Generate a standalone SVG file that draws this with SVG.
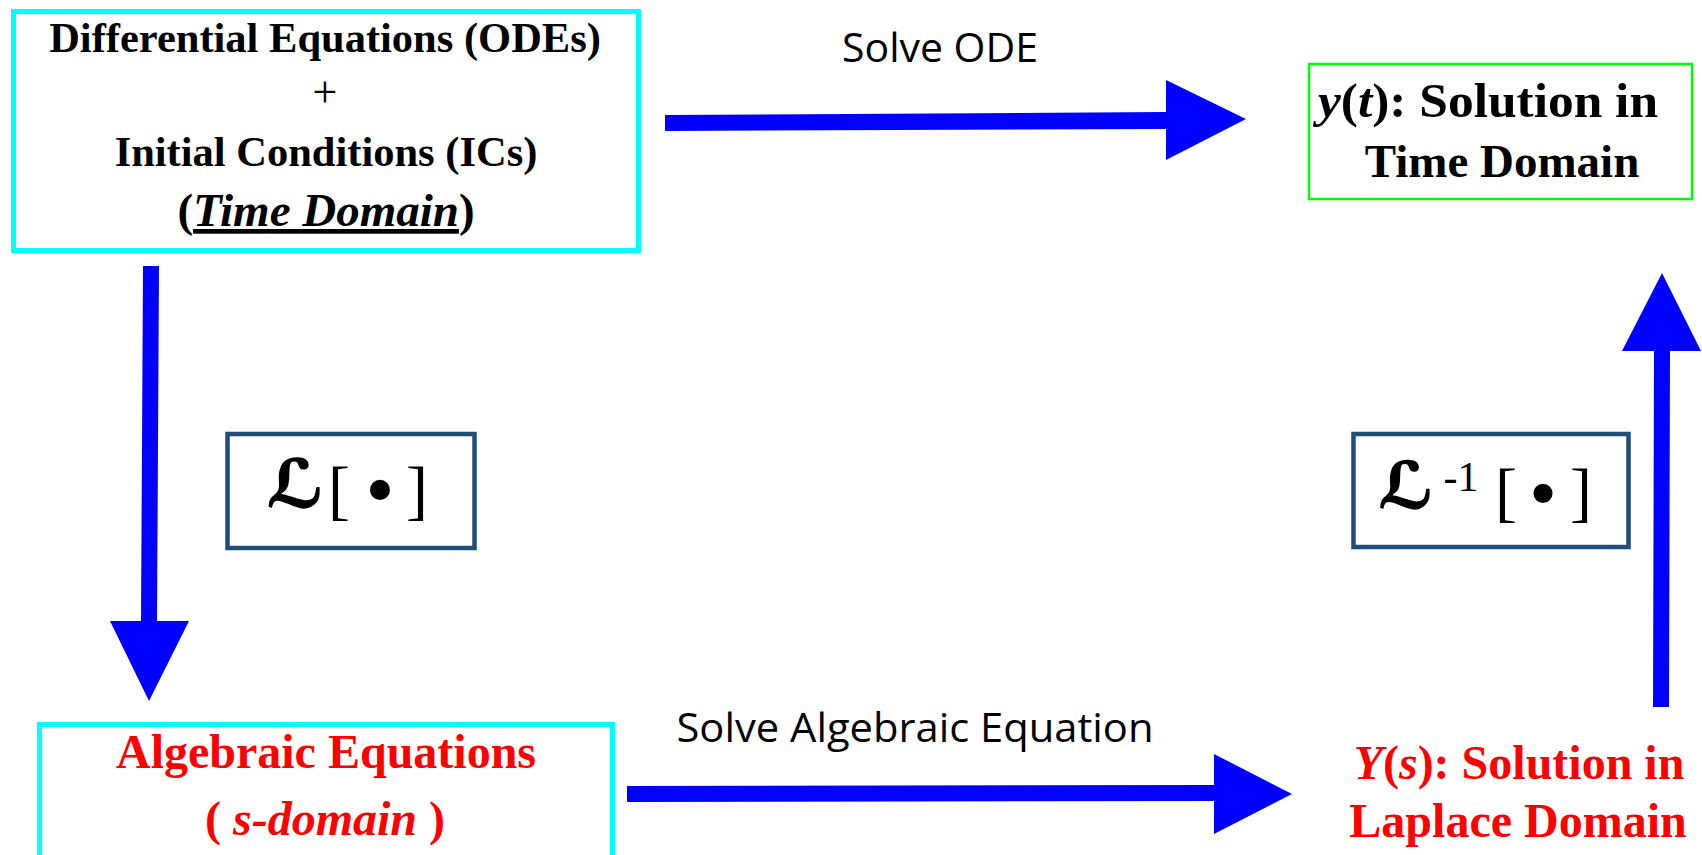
<svg xmlns="http://www.w3.org/2000/svg" width="1702" height="855" viewBox="0 0 1702 855">
  <style>
    .bg { fill: #ffffff; }
    .cyanbox { fill: none; stroke: #00FFFF; stroke-width: 5; }
    .greenbox { fill: none; stroke: #00FF00; stroke-width: 2.5; }
    .opbox { fill: #ffffff; stroke: #1F4E79; stroke-width: 4.5; }
    .serif { font-family: "Liberation Serif", "Times New Roman", serif; }
    .b { font-weight: bold; }
    .i { font-style: italic; }
    .blk { fill: #000000; }
    .red { fill: #FF0000; }
    .sans { font-family: "Open Sans", "Noto Sans", sans-serif; fill: #000000; }
    .script { font-family: "DejaVu Serif", "DejaVu Sans", serif; font-style: italic; font-weight: bold; fill: #000000; stroke: #000000; stroke-width: 1.5; }
    .arrow { fill: #0000FF; stroke: none; }
  </style>
  <rect class="bg" x="0" y="0" width="1702" height="855"/>

  <g id="connectors">
    <polygon id="arrow-solve-ode" class="arrow" points="665,115 1166,112 1166,80 1246,119 1166,160 1166,129 665,131"/>
    <polygon id="arrow-laplace" class="arrow" points="143,266 159,266 157,621 189,621 149,701 110,621 141,621"/>
    <polygon id="arrow-solve-alg" class="arrow" points="627,786 1214,785 1214,754 1292,794 1214,834 1214,801 627,802"/>
    <polygon id="arrow-inverse" class="arrow" points="1653,707 1669,707 1670,351 1701,351 1662,273 1622,351 1654,351"/>
    <text class="sans" x="940" y="62" font-size="40" text-anchor="middle" textLength="196" lengthAdjust="spacingAndGlyphs">Solve ODE</text>
    <text class="sans" x="915" y="742" font-size="40" text-anchor="middle" textLength="477" lengthAdjust="spacingAndGlyphs">Solve Algebraic Equation</text>
  </g>

  <g id="node-ode">
    <rect class="cyanbox" x="13.5" y="11.5" width="625" height="239"/>
    <text class="serif b blk" x="325" y="52" font-size="42.5" text-anchor="middle">Differential Equations (ODEs)</text>
    <text class="serif blk" x="325" y="107" font-size="44" text-anchor="middle">+</text>
    <text class="serif b blk" x="326" y="166" font-size="42.5" text-anchor="middle">Initial Conditions (ICs)</text>
    <text class="serif b blk" x="326" y="226" font-size="47" text-anchor="middle">(<tspan class="i" text-decoration="underline">Time Domain</tspan>)</text>
  </g>

  <g id="node-yt">
    <rect class="greenbox" x="1309" y="64" width="383" height="135"/>
    <text class="serif b blk" x="1488" y="117" font-size="49" text-anchor="middle" textLength="340" lengthAdjust="spacingAndGlyphs"><tspan class="i">y</tspan>(<tspan class="i">t</tspan>): Solution in</text>
    <text class="serif b blk" x="1502" y="177" font-size="47" text-anchor="middle">Time Domain</text>
  </g>

  <g id="node-laplace">
    <rect class="opbox" x="227.5" y="434" width="247" height="114"/>
    <text class="script" x="295" y="507" font-size="66" text-anchor="middle">ℒ</text>
    <text class="serif blk" y="512" font-size="66" text-anchor="middle"><tspan x="339">[</tspan><tspan x="380" font-size="84" dy="6">•</tspan><tspan x="417" dy="-6">]</tspan></text>
  </g>

  <g id="node-inverse">
    <rect class="opbox" x="1353.5" y="434" width="275" height="113"/>
    <text class="script" x="1406" y="508" font-size="64" text-anchor="middle">ℒ</text>
    <text class="serif blk" x="1461" y="491" font-size="42" text-anchor="middle">-1</text>
    <text class="serif blk" y="514" font-size="66" text-anchor="middle"><tspan x="1506">[</tspan><tspan x="1543" font-size="80" dy="6">•</tspan><tspan x="1581" dy="-6">]</tspan></text>
  </g>

  <g id="node-algebraic">
    <rect class="cyanbox" x="39.5" y="724.5" width="573" height="200"/>
    <text class="serif b red" x="326" y="768" font-size="48" text-anchor="middle">Algebraic Equations</text>
    <text class="serif b red" x="325" y="835" font-size="48" text-anchor="middle">( <tspan class="i">s-domain</tspan> )</text>
  </g>

  <g id="node-ys">
    <text class="serif b red" x="1519" y="779" font-size="48" text-anchor="middle"><tspan class="i">Y</tspan>(<tspan class="i">s</tspan>): Solution in</text>
    <text class="serif b red" x="1518" y="837" font-size="48" text-anchor="middle">Laplace Domain</text>
  </g>
</svg>
